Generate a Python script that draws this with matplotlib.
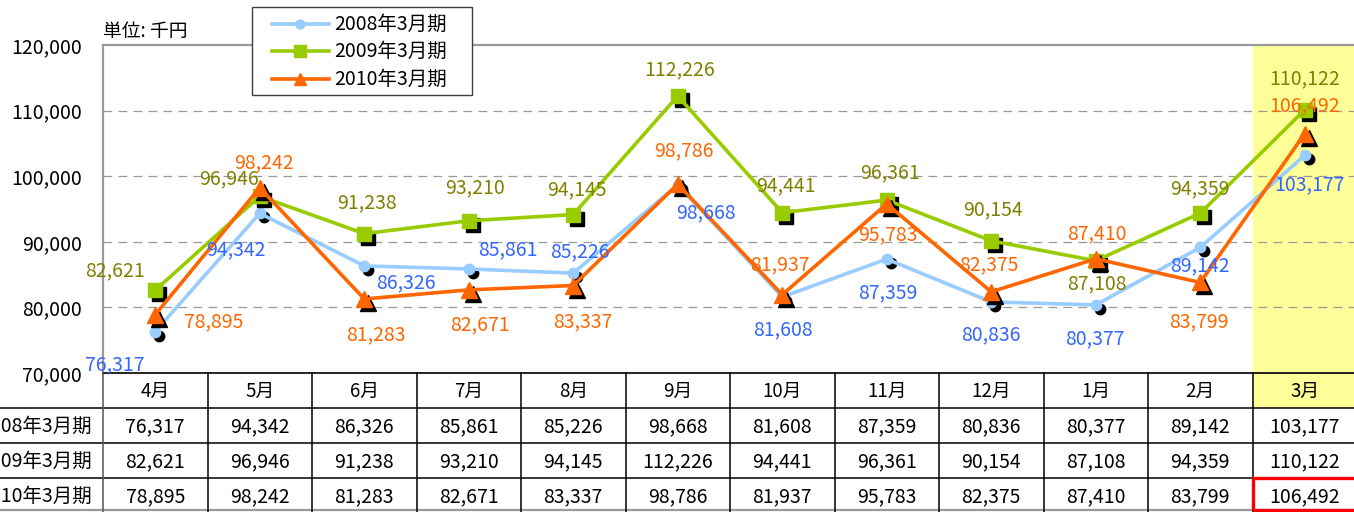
import matplotlib
matplotlib.use('Agg')
import matplotlib.pyplot as plt
from matplotlib.transforms import blended_transform_factory, ScaledTranslation
from matplotlib.patches import Rectangle
from matplotlib.lines import Line2D
import numpy as np

plt.rcParams['font.family'] = ['Noto Sans CJK JP', 'DejaVu Sans']

# ---------------- data ----------------
months = ['4月', '5月', '6月', '7月', '8月', '9月', '10月', '11月', '12月', '1月', '2月', '3月']
series_names = ['2008年3月期', '2009年3月期', '2010年3月期']
fy2008 = [76317, 94342, 86326, 85861, 85226, 98668, 81608, 87359, 80836, 80377, 89142, 103177]
fy2009 = [82621, 96946, 91238, 93210, 94145, 112226, 94441, 96361, 90154, 87108, 94359, 110122]
fy2010 = [78895, 98242, 81283, 82671, 83337, 98786, 81937, 95783, 82375, 87410, 83799, 106492]
y_ticks = [70000, 80000, 90000, 100000, 110000, 120000]
unit_label = '単位: 千円'

# ---------------- style ----------------
line_colors = ['#99CCFF', '#99CC00', '#FF6600']
label_colors = ['#3366FF', '#808000', '#FF6600']
markers = ['o', 's', '^']
msizes = [7.5, 9.5, 11]
# label offsets in pixels (dx, dy up)
offsets = [
    [(-40, -33), (-24, -36), (42, -17), (39, 19), (7, 21), (28, -28), (1, -33), (1, -34), (0, -33), (-1, -34), (0, -18), (5, -29)],
    [(-40, 19), (-31, 17), (3, 31), (6, 33), (4, 25), (2, 26), (4, 27), (3, 27), (2, 31), (1, -23), (0, 24), (0, 31)],
    [(58, -7), (4, 25), (12, -36), (11, -35), (10, -36), (6, 33), (-2, 30), (1, -31), (-2, 27), (1, 25), (-1, -39), (0, 28)],
]
FS = 14

W, H = 1354, 512
fig = plt.figure(figsize=(W / 100, H / 100), dpi=100)


def fx(px):
    return px / W


def fy(py):
    return 1 - py / H


ax = fig.add_axes([fx(103), fy(373), (1357 - 103) / W, (373 - 45) / H])
ax.set_autoscale_on(False)
ax.set_xlim(-0.5, 11.5)
ax.set_ylim(70000, 120000)

ax.set_xticks([])
ax.set_yticks(y_ticks)
ax.set_yticklabels([f"{v:,}" for v in y_ticks])
ax.tick_params(axis='y', length=0, pad=15, labelsize=FS)

for s in ['top', 'left']:
    ax.spines[s].set_color('#9a9a9a')
    ax.spines[s].set_linewidth(1.6)
ax.spines['right'].set_visible(False)
ax.spines['bottom'].set_color('black')
ax.spines['bottom'].set_linewidth(1.2)

for v in y_ticks[1:-1]:
    ax.axhline(v, color='#999999', lw=0.9, ls=(0, (7, 5)), zorder=1)

ax.axvspan(10.5, 11.5, color='#FFFF99', zorder=0, lw=0)

x = np.arange(len(months))
shadow = ax.transData + ScaledTranslation(4 / 100, -4 / 100, fig.dpi_scale_trans)
all_series = [fy2008, fy2009, fy2010]
for k, vals in enumerate(all_series):
    z = 3 + k
    ax.plot(x, vals, ls='none', marker=markers[k], ms=msizes[k], color='black',
            transform=shadow, zorder=z)
    ax.plot(x, vals, color=line_colors[k], lw=2.6, marker=markers[k], ms=msizes[k],
            mfc=line_colors[k], mec=line_colors[k], zorder=z + 0.5)

for k, vals in enumerate(all_series):
    for i, v in enumerate(vals):
        dx, dy = offsets[k][i]
        ax.annotate(f"{v:,}", (i, v), xytext=(dx, dy), textcoords='offset pixels',
                    ha='center', va='center', color=label_colors[k], fontsize=FS,
                    zorder=10, annotation_clip=False)

# ---------------- data table ----------------
tb = blended_transform_factory(ax.transData, fig.transFigure)
fig.add_artist(Rectangle((10.5, fy(408)), 1.0, 35 / H, transform=tb,
                         facecolor='#FFFF99', edgecolor='none', zorder=0))
row_tops = [373, 408, 443, 478, 513]
for i, m in enumerate(months):
    ax.text(i, fy((row_tops[0] + row_tops[1]) / 2 + 1), m, transform=tb,
            ha='center', va='center', fontsize=FS - 0.5)
for r, vals in enumerate(all_series):
    yc = fy((row_tops[r + 1] + row_tops[r + 2]) / 2 + 1)
    for i, v in enumerate(vals):
        ax.text(i, yc, f"{v:,}", transform=tb, ha='center', va='center', fontsize=FS)
    fig.text(fx(92), yc, series_names[r], ha='right', va='center', fontsize=FS)

for yy in row_tops[1:4]:
    fig.add_artist(Line2D([0, 1], [fy(yy), fy(yy)], transform=fig.transFigure,
                          color='black', lw=1.1))
fig.add_artist(Line2D([0, 1], [fy(510), fy(510)], transform=fig.transFigure,
                      color='#9a9a9a', lw=1.6))
for k in range(13):
    xv = -0.5 + k
    fig.add_artist(Line2D([xv, xv], [fy(373), fy(512)], transform=tb,
                          color='black' if k > 0 else '#555555', lw=1.1))

fig.add_artist(Rectangle((10.5, fy(510)), 1.0, (510 - 478) / H, transform=tb,
                         fill=False, edgecolor='#FF0000', lw=2.4, zorder=20))

# ---------------- unit label ----------------
fig.text(fx(103), fy(31), unit_label, ha='left', va='center', fontsize=FS - 0.5)

# ---------------- legend ----------------
fig.add_artist(Rectangle((fx(252), fy(95)), 220 / W, 88 / H, transform=fig.transFigure,
                         facecolor='white', edgecolor='#404040', lw=1.0, zorder=30))
for k, yy in enumerate([24, 51, 79]):
    fig.add_artist(Line2D([fx(272), fx(329)], [fy(yy), fy(yy)], transform=fig.transFigure,
                          color=line_colors[k], lw=2.6, zorder=31))
    fig.add_artist(Line2D([fx(300)], [fy(yy)], transform=fig.transFigure, ls='none',
                          marker=markers[k], ms=msizes[k] * 0.85, color=line_colors[k],
                          mec=line_colors[k], zorder=32))
    fig.text(fx(334), fy(yy), series_names[k], ha='left', va='center', fontsize=FS,
             zorder=33)

fig.savefig('out.png', dpi=100)
